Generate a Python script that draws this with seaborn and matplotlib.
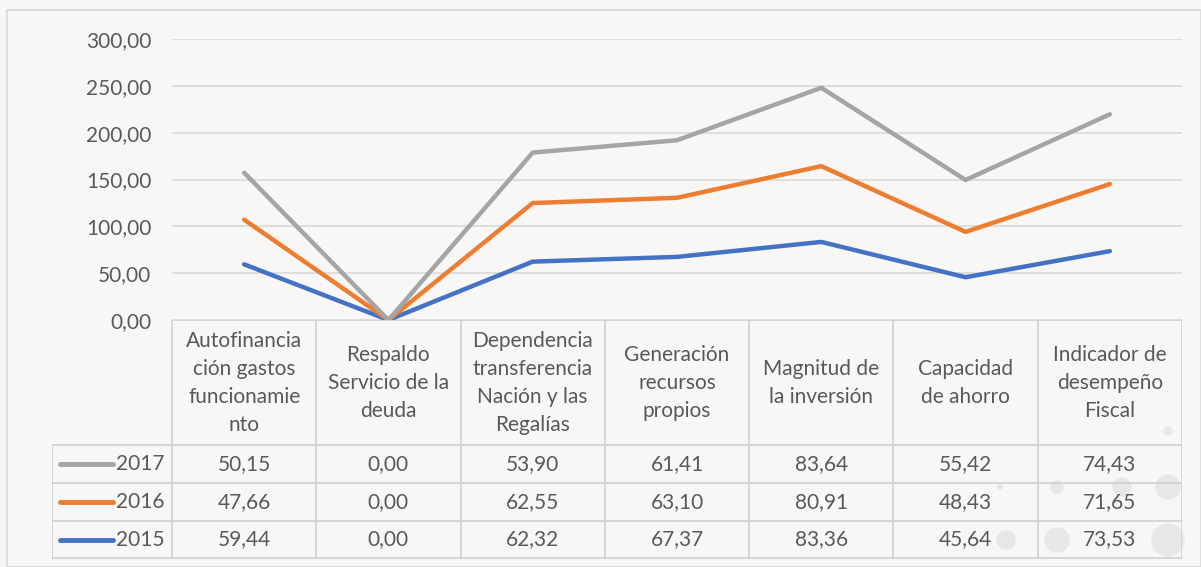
import matplotlib.pyplot as plt
import matplotlib.lines as mlines
from matplotlib.patches import Ellipse
import seaborn as sns
import pandas as pd
import numpy as np

categories = ["Autofinancia\nción gastos\nfuncionamie\nnto", "Respaldo\nServicio de la\ndeuda",
              "Dependencia\ntransferencia\nNación y las\nRegalías", "Generación\nrecursos\npropios",
              "Magnitud de\nla inversión", "Capacidad\nde ahorro", "Indicador de\ndesempeño\nFiscal"]
years = ["2015", "2016", "2017"]
v2015 = [59.44, 0.00, 62.32, 67.37, 83.36, 45.64, 73.53]
v2016 = [47.66, 0.00, 62.55, 63.10, 80.91, 48.43, 71.65]
v2017 = [50.15, 0.00, 53.90, 61.41, 83.64, 55.42, 74.43]
yticks = [0, 50, 100, 150, 200, 250, 300]

colors = {"2015": "#4472C4", "2016": "#ED7D31", "2017": "#A5A5A5"}
txt = "#595959"
grid_c = "#D9D9D9"
FS = 15

sns.set_theme(style="white")
plt.rcParams['font.family'] = ['Lato', 'DejaVu Sans']

# stacked line chart (Excel style): cumulative sums
stack = np.cumsum(np.array([v2015, v2016, v2017]), axis=0)
rows = []
for yi, y in enumerate(years):
    for ci in range(len(categories)):
        rows.append({"x": ci, "value": stack[yi, ci], "year": y})
df = pd.DataFrame(rows)

W, H = 1201, 567
fig = plt.figure(figsize=(W / 100, H / 100), dpi=100, facecolor="#F8F7F6")
fig.add_artist(plt.Rectangle((7 / W, 0), 1 - 7 / W, 1 - 10 / H, transform=fig.transFigure,
                             fill=False, edgecolor="#D9D9D9", lw=1.2))

# faint decorative bubbles
for (cx, cy, r) in [(1168, 487, 12), (1168, 540, 16), (1057, 540, 12), (1006, 540, 9),
                    (1122, 487, 9), (1057, 487, 6), (1168, 431, 4), (1000, 487, 2)]:
    fig.add_artist(Ellipse((cx / W, 1 - cy / H), 2 * r / W, 2 * r / H,
                           transform=fig.transFigure, color="#E8E7E6", zorder=0))

x0, x1 = 172, 1182
ax = fig.add_axes([x0 / W, 1 - 320 / H, (x1 - x0) / W, (320 - 39) / H])
ax.set_facecolor("none")
sns.lineplot(data=df, x="x", y="value", hue="year", palette=colors,
             hue_order=years, lw=3.2, ax=ax, legend=False, zorder=3)
ax.set_xlim(-0.5, len(categories) - 0.5)
ax.set_ylim(0, 300)
ax.set_yticks(yticks)
ax.set_yticklabels([f"{t:.2f}".replace(".", ",") for t in yticks], fontsize=FS, color=txt)
ax.tick_params(axis="y", length=0, pad=15)
ax.set_xticks([])
ax.set_xlabel("")
ax.set_ylabel("")
ax.grid(axis="y", color=grid_c, lw=1.2)
for s in ax.spines.values():
    s.set_visible(False)

# data table below the axis
tx0 = 52
tab = fig.add_axes([tx0 / W, 1 - 560 / H, (x1 - tx0) / W, (560 - 320) / H])
tab.set_xlim(tx0, x1)
tab.set_ylim(560, 320)
tab.axis("off")
colw = (x1 - x0) / len(categories)
row_edges = [320, 445, 483, 521, 558]
lc = "#D0D0D0"
tab.plot([x0, x1], [320, 320], color=lc, lw=1.2)
for ry in row_edges[1:]:
    tab.plot([tx0, x1], [ry, ry], color=lc, lw=1.2)
tab.plot([tx0, tx0], [445, 558], color=lc, lw=1.2)
for i in range(len(categories) + 1):
    xx = x0 + i * colw
    tab.plot([xx, xx], [320, 558], color=lc, lw=1.2)

for i, c in enumerate(categories):
    tab.text(x0 + (i + 0.5) * colw, 383, c, ha="center", va="center", fontsize=FS,
             color=txt, linespacing=1.5)

table_rows = [("2017", v2017), ("2016", v2016), ("2015", v2015)]
for r, (yr, vals) in enumerate(table_rows):
    cy = (row_edges[r + 1] + row_edges[r + 2]) / 2
    tab.add_line(mlines.Line2D([60, 113], [cy, cy], color=colors[yr], lw=3.5,
                               solid_capstyle="round"))
    tab.text(116, cy, yr, ha="left", va="center", fontsize=FS, color=txt)
    for i, v in enumerate(vals):
        tab.text(x0 + (i + 0.5) * colw, cy, f"{v:.2f}".replace(".", ","), ha="center",
                 va="center", fontsize=FS, color=txt)

fig.savefig("out.png", dpi=100, facecolor=fig.get_facecolor())
